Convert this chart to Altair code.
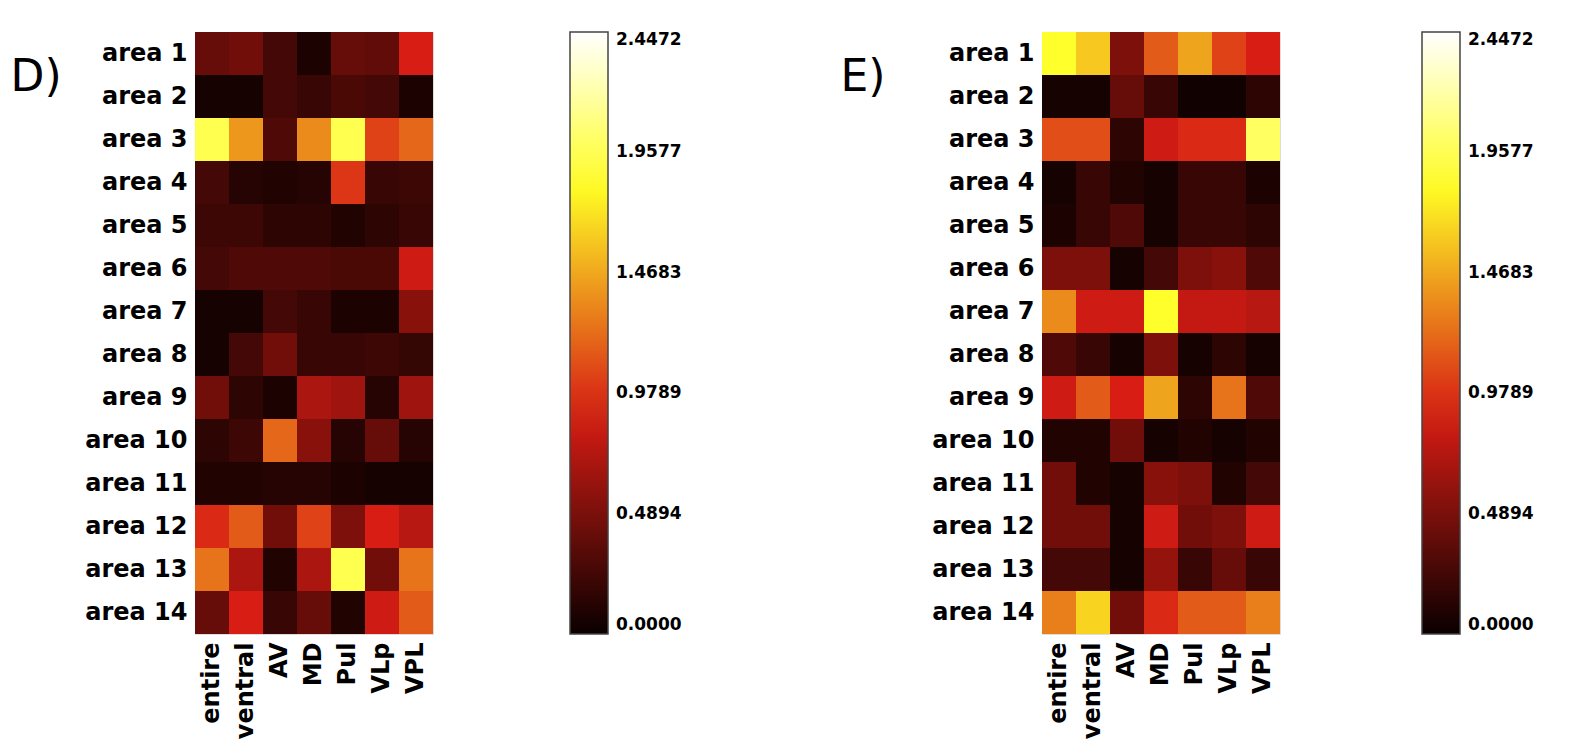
import altair as alt
import pandas as pd

columns = ["entire", "ventral", "AV", "MD", "Pul", "VLp", "VPL"]
areas = ["area 1", "area 2", "area 3", "area 4", "area 5", "area 6", "area 7",
         "area 8", "area 9", "area 10", "area 11", "area 12", "area 13", "area 14"]

# Panel D values (rows = areas, cols = columns)
values_d = [
    [0.40, 0.45, 0.25, 0.08, 0.40, 0.38, 0.90],
    [0.05, 0.05, 0.25, 0.20, 0.28, 0.25, 0.08],
    [1.95, 1.40, 0.30, 1.35, 1.95, 1.05, 1.20],
    [0.25, 0.12, 0.10, 0.12, 1.00, 0.20, 0.22],
    [0.22, 0.22, 0.15, 0.15, 0.10, 0.15, 0.20],
    [0.25, 0.30, 0.30, 0.30, 0.28, 0.28, 0.85],
    [0.05, 0.05, 0.25, 0.20, 0.08, 0.08, 0.55],
    [0.05, 0.25, 0.45, 0.20, 0.20, 0.22, 0.18],
    [0.45, 0.15, 0.08, 0.70, 0.65, 0.12, 0.65],
    [0.15, 0.22, 1.20, 0.55, 0.12, 0.40, 0.12],
    [0.10, 0.10, 0.12, 0.12, 0.08, 0.05, 0.05],
    [0.95, 1.15, 0.45, 1.05, 0.50, 0.90, 0.75],
    [1.25, 0.70, 0.10, 0.70, 1.95, 0.45, 1.25],
    [0.40, 0.90, 0.20, 0.40, 0.10, 0.85, 1.15],
]

# Panel E values
values_e = [
    [1.85, 1.60, 0.50, 1.15, 1.45, 1.05, 0.90],
    [0.05, 0.05, 0.40, 0.20, 0.03, 0.03, 0.15],
    [1.10, 1.10, 0.15, 0.85, 0.95, 0.95, 2.00],
    [0.05, 0.20, 0.10, 0.05, 0.20, 0.20, 0.08],
    [0.08, 0.20, 0.30, 0.05, 0.20, 0.20, 0.15],
    [0.50, 0.50, 0.05, 0.25, 0.50, 0.55, 0.30],
    [1.35, 0.85, 0.85, 1.85, 0.80, 0.80, 0.75],
    [0.30, 0.20, 0.05, 0.50, 0.05, 0.15, 0.05],
    [0.85, 1.15, 0.90, 1.45, 0.15, 1.25, 0.30],
    [0.10, 0.10, 0.45, 0.05, 0.10, 0.05, 0.10],
    [0.45, 0.10, 0.05, 0.55, 0.50, 0.10, 0.25],
    [0.45, 0.45, 0.05, 0.85, 0.45, 0.50, 0.85],
    [0.25, 0.25, 0.05, 0.60, 0.20, 0.40, 0.20],
    [1.30, 1.65, 0.45, 0.95, 1.15, 1.15, 1.30],
]

tick_values = [0.0, 0.4894, 0.9789, 1.4683, 1.9577, 2.4472]
vmax = 2.4472

# "hot" colormap stops
hot_domain = [0.0, 0.893, 1.826, vmax]
hot_range = ["#0a0000", "#d81c14", "#ffff24", "#ffffff"]


def to_long(vals):
    rows = []
    for i, a in enumerate(areas):
        for j, c in enumerate(columns):
            rows.append({"area": a, "region": c, "value": vals[i][j]})
    return pd.DataFrame(rows)


FONT = "DejaVu Sans"


def panel(vals, label, title_x, legend_offset):
    df = to_long(vals)
    return alt.Chart(df).mark_rect().encode(
        x=alt.X("region:N", sort=columns,
                scale=alt.Scale(paddingInner=0, paddingOuter=0),
                axis=alt.Axis(title=None, labelAngle=-90, ticks=False, domain=False,
                              labelFont=FONT, labelFontWeight="bold", labelFontSize=24,
                              labelColor="black", labelPadding=8)),
        y=alt.Y("area:N", sort=areas,
                scale=alt.Scale(paddingInner=0, paddingOuter=0),
                axis=alt.Axis(title=label, titleAngle=0, titleX=title_x, titleY=45,
                              titleAlign="left", titleBaseline="middle",
                              titleFont=FONT, titleFontSize=44, titleFontWeight="normal",
                              titleColor="black",
                              ticks=False, domain=False,
                              labelFont=FONT, labelFontWeight="bold", labelFontSize=24,
                              labelColor="black", labelPadding=8)),
        color=alt.Color("value:Q",
                        scale=alt.Scale(domain=hot_domain, range=hot_range,
                                        interpolate="rgb"),
                        legend=alt.Legend(title=None, values=tick_values, format=".4f",
                                          orient="right", direction="vertical",
                                          gradientLength=602, gradientThickness=38,
                                          offset=legend_offset, labelOffset=8,
                                          labelFont=FONT, labelFontWeight="bold",
                                          labelFontSize=17, labelColor="black",
                                          labelBaseline="middle",
                                          gradientStrokeColor="#444",
                                          gradientStrokeWidth=1.5)),
    ).properties(width=238, height=602)


chart_d = panel(values_d, "D)", -185, 137)
chart_e = panel(values_e, "E)", -202, 142)

chart = alt.hconcat(chart_d, chart_e, spacing=156).resolve_scale(
    color="independent"
).properties(
    padding={"left": 1, "top": 23, "right": 5, "bottom": 5}
).configure_view(
    stroke="black", strokeWidth=1.5
).configure(background="white")

chart.save("out.html", embed_options={"renderer": "svg", "actions": False})
